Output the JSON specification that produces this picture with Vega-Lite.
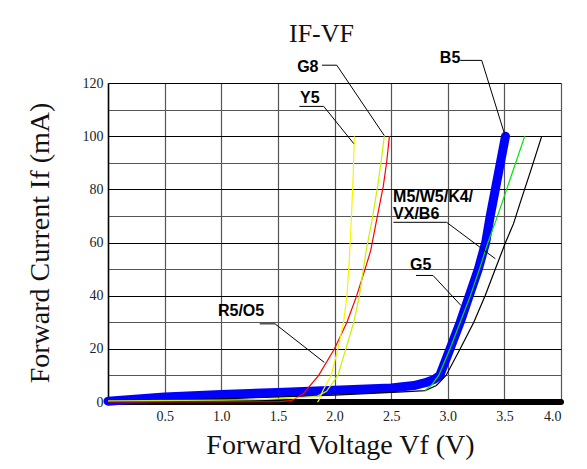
{
  "$schema": "https://vega.github.io/schema/vega-lite/v6.json",
  "width": 453,
  "height": 319,
  "autosize": {"type": "none"},
  "padding": {"left": 108, "top": 83, "right": 26, "bottom": 67},
  "background": "white",
  "config": {"view": {"stroke": null}},
  "title": {
    "text": "IF-VF",
    "font": "Liberation Serif",
    "fontSize": 26,
    "fontWeight": "normal",
    "color": "#111",
    "frame": "group",
    "anchor": "middle",
    "dx": -13,
    "offset": -18,
    "baseline": "alphabetic"
  },
  "datasets": {
    "curves": [
      {"s": "base", "v": 0, "i": 0},
      {"s": "base", "v": 4.0, "i": 0},
      {"s": "B5", "v": 0, "i": 0.3},
      {"s": "B5", "v": 0.5, "i": 1.9},
      {"s": "B5", "v": 1.0, "i": 2.8},
      {"s": "B5", "v": 1.5, "i": 3.6},
      {"s": "B5", "v": 2.0, "i": 4.4},
      {"s": "B5", "v": 2.5, "i": 5.3},
      {"s": "B5", "v": 2.7, "i": 6.2},
      {"s": "B5", "v": 2.82, "i": 7.5},
      {"s": "B5", "v": 2.88, "i": 8.5},
      {"s": "B5", "v": 2.93, "i": 10},
      {"s": "B5", "v": 3.02, "i": 20},
      {"s": "B5", "v": 3.11, "i": 30},
      {"s": "B5", "v": 3.19, "i": 40},
      {"s": "B5", "v": 3.27, "i": 50},
      {"s": "B5", "v": 3.335, "i": 60},
      {"s": "B5", "v": 3.375, "i": 70},
      {"s": "B5", "v": 3.42, "i": 80},
      {"s": "B5", "v": 3.465, "i": 90},
      {"s": "B5", "v": 3.51, "i": 100},
      {"s": "M5", "v": 0, "i": 0},
      {"s": "M5", "v": 1.0, "i": 1.2},
      {"s": "M5", "v": 2.0, "i": 2.6},
      {"s": "M5", "v": 2.6, "i": 3.8},
      {"s": "M5", "v": 2.8, "i": 4.3},
      {"s": "M5", "v": 2.9, "i": 6.2},
      {"s": "M5", "v": 2.985, "i": 10},
      {"s": "M5", "v": 3.11, "i": 20},
      {"s": "M5", "v": 3.23, "i": 30},
      {"s": "M5", "v": 3.33, "i": 40},
      {"s": "M5", "v": 3.42, "i": 50},
      {"s": "M5", "v": 3.51, "i": 60},
      {"s": "M5", "v": 3.58, "i": 67},
      {"s": "M5", "v": 3.64, "i": 75},
      {"s": "M5", "v": 3.74, "i": 88},
      {"s": "M5", "v": 3.83, "i": 100},
      {"s": "G5", "v": 2.8, "i": 4.3},
      {"s": "G5", "v": 2.86, "i": 6.5},
      {"s": "G5", "v": 2.92, "i": 10},
      {"s": "G5", "v": 3.02, "i": 20},
      {"s": "G5", "v": 3.11, "i": 30},
      {"s": "G5", "v": 3.2, "i": 40},
      {"s": "G5", "v": 3.28, "i": 50},
      {"s": "G5", "v": 3.355, "i": 60},
      {"s": "G5", "v": 3.44, "i": 70},
      {"s": "G5", "v": 3.52, "i": 80},
      {"s": "G5", "v": 3.6, "i": 90},
      {"s": "G5", "v": 3.68, "i": 100},
      {"s": "R5", "v": 0, "i": 0},
      {"s": "R5", "v": 1.5, "i": 0.1},
      {"s": "R5", "v": 1.62, "i": 0.5},
      {"s": "R5", "v": 1.725, "i": 3.1},
      {"s": "R5", "v": 1.86, "i": 10},
      {"s": "R5", "v": 2.0, "i": 20},
      {"s": "R5", "v": 2.11, "i": 30},
      {"s": "R5", "v": 2.196, "i": 40},
      {"s": "R5", "v": 2.27, "i": 50},
      {"s": "R5", "v": 2.32, "i": 57},
      {"s": "R5", "v": 2.37, "i": 68},
      {"s": "R5", "v": 2.43, "i": 81},
      {"s": "R5", "v": 2.46, "i": 90},
      {"s": "R5", "v": 2.485, "i": 100},
      {"s": "G8", "v": 0, "i": 0.4},
      {"s": "G8", "v": 1.0, "i": 0.7},
      {"s": "G8", "v": 1.4, "i": 1.0},
      {"s": "G8", "v": 1.7, "i": 1.6},
      {"s": "G8", "v": 1.85, "i": 2.2},
      {"s": "G8", "v": 1.93, "i": 4},
      {"s": "G8", "v": 2.03, "i": 10},
      {"s": "G8", "v": 2.1, "i": 20},
      {"s": "G8", "v": 2.17, "i": 30},
      {"s": "G8", "v": 2.22, "i": 40},
      {"s": "G8", "v": 2.255, "i": 50},
      {"s": "G8", "v": 2.28, "i": 57},
      {"s": "G8", "v": 2.33, "i": 68},
      {"s": "G8", "v": 2.38, "i": 81},
      {"s": "G8", "v": 2.41, "i": 90},
      {"s": "G8", "v": 2.44, "i": 100},
      {"s": "Y5", "v": 1.85, "i": 0},
      {"s": "Y5", "v": 1.86, "i": 0.5},
      {"s": "Y5", "v": 1.9, "i": 4.5},
      {"s": "Y5", "v": 1.97, "i": 10},
      {"s": "Y5", "v": 2.03, "i": 20},
      {"s": "Y5", "v": 2.08, "i": 30},
      {"s": "Y5", "v": 2.11, "i": 40},
      {"s": "Y5", "v": 2.13, "i": 53},
      {"s": "Y5", "v": 2.15, "i": 70},
      {"s": "Y5", "v": 2.165, "i": 85},
      {"s": "Y5", "v": 2.175, "i": 100}
    ],
    "leaders": [
      {"a": "B5", "k": 1, "v": 3.11, "i": 128.5},
      {"a": "B5", "k": 2, "v": 3.3, "i": 128.5},
      {"a": "B5", "k": 3, "v": 3.5, "i": 101},
      {"a": "G8", "k": 1, "v": 1.89, "i": 126.7},
      {"a": "G8", "k": 2, "v": 2.02, "i": 126.7},
      {"a": "G8", "k": 3, "v": 2.44, "i": 100.2},
      {"a": "Y5", "k": 1, "v": 1.69, "i": 111.2},
      {"a": "Y5", "k": 2, "v": 1.905, "i": 111.2},
      {"a": "Y5", "k": 3, "v": 2.17, "i": 97.2},
      {"a": "M5", "k": 1, "v": 2.52, "i": 67.6},
      {"a": "M5", "k": 2, "v": 2.99, "i": 67.6},
      {"a": "M5", "k": 3, "v": 3.42, "i": 53.9},
      {"a": "G5", "k": 1, "v": 2.72, "i": 47.6},
      {"a": "G5", "k": 2, "v": 2.87, "i": 47.6},
      {"a": "G5", "k": 3, "v": 3.117, "i": 36.3},
      {"a": "R5", "k": 1, "v": 1.34, "i": 29.4},
      {"a": "R5", "k": 2, "v": 1.475, "i": 29.4},
      {"a": "R5", "k": 3, "v": 1.91, "i": 14.9}
    ],
    "notes": [
      {"t": "B5", "v": 2.93, "i": 127.7},
      {"t": "G8", "v": 1.67, "i": 124.3},
      {"t": "Y5", "v": 1.695, "i": 112.3},
      {"t": "M5/W5/K4/", "v": 2.517, "i": 75.2},
      {"t": "VX/B6", "v": 2.517, "i": 68.9},
      {"t": "G5", "v": 2.667, "i": 49.5},
      {"t": "R5/O5", "v": 0.971, "i": 32.5}
    ]
  },
  "encoding": {
    "x": {
      "field": "v",
      "type": "quantitative",
      "scale": {"domain": [0, 4], "nice": false, "zero": false},
      "axis": {
        "title": "Forward Voltage Vf (V)",
        "titleFont": "Liberation Serif",
        "titleFontSize": 28,
        "titleFontWeight": "normal",
        "titleColor": "#111",
        "titlePadding": 8,
        "titleX": 232,
        "values": [0, 0.5, 1, 1.5, 2, 2.5, 3, 3.5, 4],
        "labelExpr": "datum.value == 0 ? '' : format(datum.value, '.1f')",
        "labelFont": "Liberation Serif",
        "labelFontSize": 14,
        "labelColor": "#222",
        "labelPadding": 7,
        "ticks": false,
        "domain": false,
        "grid": true,
        "gridColor": "#555",
        "gridWidth": 1.2
      }
    },
    "y": {
      "field": "i",
      "type": "quantitative",
      "scale": {"domain": [0, 120], "nice": false},
      "axis": {
        "title": "Forward Current If (mA)",
        "titleFont": "Liberation Serif",
        "titleFontSize": 28,
        "titleFontWeight": "normal",
        "titleColor": "#111",
        "titlePadding": 28,
        "values": [0, 10, 20, 30, 40, 50, 60, 70, 80, 90, 100, 110, 120],
        "labelExpr": "datum.value % 20 == 0 ? datum.value : ''",
        "labelFont": "Liberation Serif",
        "labelFontSize": 14,
        "labelColor": "#222",
        "labelPadding": 5,
        "ticks": false,
        "domain": true,
        "domainColor": "#000",
        "domainWidth": 1.5,
        "grid": true,
        "gridColor": {"condition": {"test": "datum.value % 20 == 0", "value": "#000"}, "value": "#555"},
        "gridWidth": 1.2
      }
    }
  },
  "layer": [
    {
      "data": {"name": "curves"},
      "transform": [{"filter": "datum.s == 'base'"}],
      "mark": {"type": "line", "color": "#000", "strokeWidth": 6, "strokeCap": "round"}
    },
    {
      "data": {"name": "curves"},
      "transform": [{"filter": "datum.s == 'B5'"}],
      "mark": {"type": "line", "color": "#0000ff", "strokeWidth": 9, "strokeCap": "round", "strokeJoin": "round"}
    },
    {
      "data": {"name": "curves"},
      "transform": [{"filter": "datum.s != 'base' && datum.s != 'B5'"}],
      "mark": {"type": "line", "strokeWidth": 1.2},
      "encoding": {
        "color": {
          "field": "s",
          "type": "nominal",
          "scale": {"domain": ["M5", "G5", "R5", "G8", "Y5"], "range": ["#000000", "#00e600", "#ff0000", "#c8f000", "#f5f500"]},
          "legend": null
        }
      }
    },
    {
      "data": {"name": "leaders"},
      "mark": {"type": "line", "color": "#000", "strokeWidth": 1},
      "encoding": {
        "detail": {"field": "a", "type": "nominal"},
        "order": {"field": "k", "type": "quantitative"}
      }
    },
    {
      "data": {"name": "notes"},
      "mark": {"type": "text", "align": "left", "baseline": "alphabetic", "font": "Liberation Sans", "fontWeight": "bold", "fontSize": 16, "color": "#000"},
      "encoding": {"text": {"field": "t", "type": "nominal"}}
    }
  ]
}
